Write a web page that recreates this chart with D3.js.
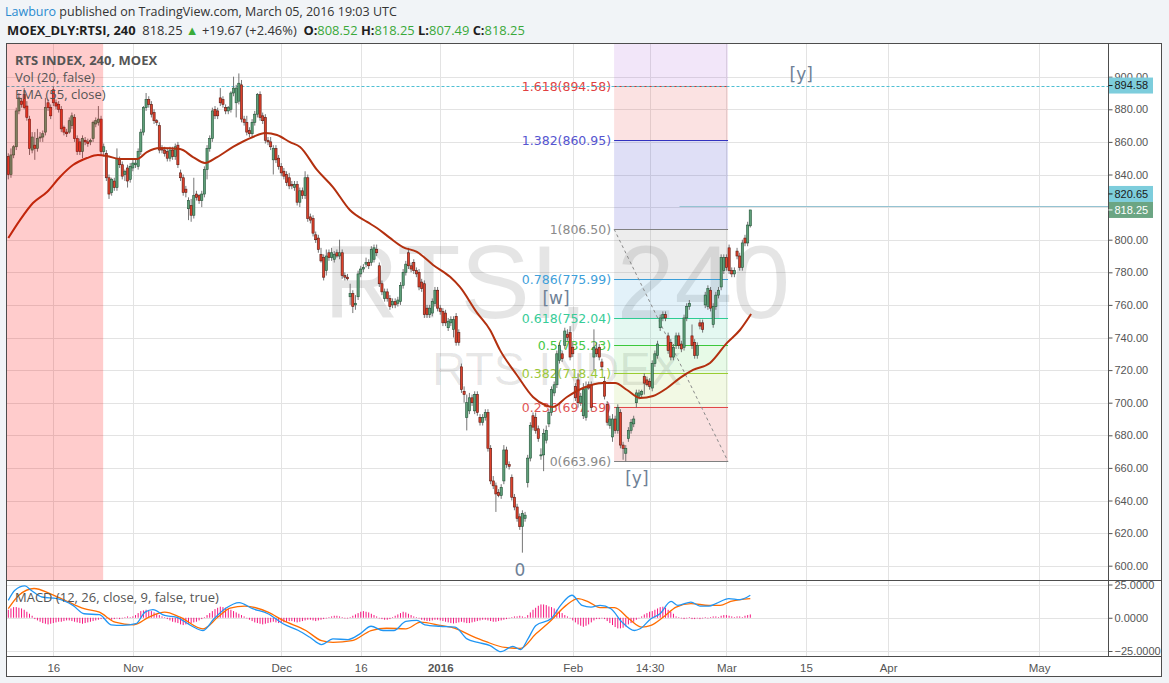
<!DOCTYPE html>
<html><head><meta charset="utf-8">
<script src="https://cdn.jsdelivr.net/npm/d3@7"></script>
<style>
body{margin:0;background:#f1f4f7;}
svg{display:block;}
text{white-space:pre;}
</style></head><body>
<svg id="c" width="1169" height="683"></svg>
<script>
// ---------- DATA ----------
// 240-minute candles, one row per bar: [open, high, low, close]
const candles = [
[851,853,837,840],[840,856,838,852],[852,858,850,857],[857,881,855,879],[879,890,877,887],
[885,887,881,883],[889,893,880,881],[882,885,873,875],[874,876,852,856],[855,866,853,863],
[858,866,849,856],[856,868,854,862],[863,866,860,863],[863,867,860,865],[866,887,864,881],
[884,886,879,881],[881,883,874,876],[892,894,882,884],[884,886,880,882],[883,885,878,880],
[880,882,866,868],[869,870,864,866],[866,868,863,865],[866,875,865,873],[870,878,868,876],
[875,877,860,862],[862,864,852,854],[860,862,852,854],[854,864,850,862],[861,863,858,860],
[860,862,857,859],[860,862,858,861],[862,873,860,872],[871,875,869,873],[872,882,870,874],
[874,876,852,854],[854,859,851,857],[853,855,836,838],[838,840,825,828],[829,838,827,837],
[836,838,830,832],[832,856,830,850],[849,851,844,846],[846,848,837,839],[840,843,836,842],
[844,846,832,836],[837,847,835,845],[844,849,842,847],[846,849,844,847],[845,856,843,854],
[854,868,852,866],[866,882,864,881],[881,890,879,886],[886,888,881,883],[883,885,875,877],
[878,880,871,873],[873,874,870,872],[870,872,853,855],[856,858,853,855],[855,857,851,853],
[854,856,848,850],[850,857,848,855],[855,857,849,851],[851,859,849,857],[858,860,844,846],
[841,843,836,838],[838,840,827,829],[831,833,826,829],[819,826,812,824],[821,825,811,815],
[815,838,813,827],[828,830,824,826],[827,828,822,824],[824,830,820,828],[828,845,826,843],
[843,858,837,856],[856,864,854,862],[862,881,860,879],[880,882,874,876],[879,881,874,876],
[887,893,882,884],[886,888,881,883],[881,883,877,879],[879,882,877,881],[880,891,878,890],
[890,900,888,893],[884,895,875,893],[885,902,883,896],[895,898,872,874],[874,876,870,872],
[872,876,864,866],[867,869,863,865],[865,874,863,872],[872,879,870,877],[877,890,875,889],
[889,891,873,875],[876,878,871,873],[875,877,859,861],[861,863,858,860],[860,863,855,857],
[849,858,840,856],[856,858,847,849],[850,852,843,845],[845,847,839,841],[842,844,837,839],
[840,842,833,835],[838,841,831,833],[834,836,831,833],[832,836,830,834],[834,836,821,823],
[823,832,820,830],[830,832,825,827],
[827,842,825,838],[838,840,811,813],[814,816,810,812],[813,815,802,804],[803,805,798,800],
[801,803,792,794],[791,795,786,787],[789,791,775,777],[781,794,778,790],[792,794,787,789],
[789,795,787,792],[788,793,786,791],[792,794,789,790],[790,800,788,792],[792,794,776,778],
[778,780,775,777],[777,779,775,776],[765,773,760,767],[767,769,755,759],[760,766,757,761],
[765,781,763,779],[779,784,777,782],[782,785,780,783],[785,789,783,786],[786,788,782,784],
[786,796,784,794],[788,797,786,795],[794,797,790,792],[784,786,771,773],[773,775,766,768],
[764,770,762,768],[768,770,762,764],[764,766,757,759],[760,764,758,762],[762,764,758,760],
[761,765,759,763],[762,774,760,772],[772,782,770,780],[780,787,778,785],[792,795,782,784],
[784,786,780,782],[786,788,779,781],[781,783,777,779],[780,782,769,771],[774,776,768,770],
[773,775,752,754],[758,760,752,754],[754,760,752,758],[755,764,753,762],[761,771,759,769],
[769,771,756,758],[758,760,754,756],[756,758,747,749],[755,757,747,749],[746,752,744,750],
[749,753,747,751],[745,753,740,751],[753,755,735,737],[743,745,735,737],
[722,724,706,708],[707,710,700,705],[691,705,683,700],[695,706,693,703],[703,705,698,700],
[695,707,693,705],[705,707,692,694],[691,693,686,688],[688,693,686,691],[691,696,689,694],
[694,696,670,672],[672,674,650,652],[652,655,647,649],[649,651,633,644],[645,647,642,643],
[643,650,641,648],[652,674,650,671],[671,673,660,662],[662,664,659,661],[654,656,640,642],
[642,644,634,636],[636,638,627,629],[630,632,622,624],[624,634,608,632],[629,633,627,631],
[651,668,648,666],[666,688,664,686],[692,694,683,685],[691,694,681,683],[684,686,676,678],
[668,672,665,668],[668,684,658,681],[677,686,675,683],[687,696,685,694],[694,710,692,708],
[706,713,704,711],[711,732,709,730],[726,737,724,735],[730,732,725,727],[735,746,733,744],
[742,745,738,740],[743,747,726,728],[734,737,728,730],[710,712,701,703],[714,718,697,700],
[700,706,698,704],[692,712,690,708],[691,713,689,710],[711,713,708,709],[711,713,695,697],
[728,745,720,734],[733,737,728,730],[734,736,726,728],[725,727,720,722],[713,716,702,704],
[699,701,686,688],[686,692,684,690],[679,693,676,690],[690,692,681,683],[683,699,681,697],
[694,696,672,674],[674,676,665,672],[669,674,664,672],[678,685,676,683],[683,690,681,688],
[687,692,685,690],[700,708,697,706],[704,708,702,706],[705,708,703,707],[716,718,705,712],
[714,716,710,711],[713,715,708,710],[709,726,707,724],[724,732,722,730],[729,738,727,736],
[746,754,744,752],[752,756,750,754],[754,756,750,752],[741,743,730,732],[737,739,726,728],
[728,736,726,734],[735,743,733,741],[741,743,733,735],[736,738,731,733],[734,754,732,752],
[752,761,750,759],[759,763,757,761],[741,748,733,735],[737,739,727,729],[729,737,727,735],
[749,751,745,747],[749,751,743,745],[760,768,758,766],[759,772,757,770],[769,771,756,758],
[748,761,746,759],[759,768,757,766],[766,771,764,769],[771,791,769,789],[781,791,779,789],
[789,791,781,783],[795,797,779,781],[781,783,777,779],[779,783,777,781],[793,795,788,790],
[790,792,781,783],[783,800,781,798],[801,803,796,798],[798,811,796,809],[808.52,818.25,807.49,818.25]
];
// EMA(55) readings: [bar, value]
const emaPts = [[0,801],[4.4,812],[9.3,822.5],[14.6,829.3],[19.5,838.5],[24.4,845.8],[29.7,850.1],[33.8,852],[37.2,851.4],[42.1,849.5],[48.6,849.5],[52.3,853.8],[57.2,856.3],[64.8,855.6],[69.7,850.7],[74.2,847.1],[78.8,850.7],[84.8,856.9],[92.3,863],[96.9,865.5],[101.4,864.2],[106.3,859.9],[110.1,856.9],[116.5,842.8],[122.5,832.3],[128.9,818.2],[135.4,810.9],[139.1,807.2],[144,801.1],[148.9,795.5],[154.2,792.5],[160.3,784.5],[166.7,777.2],[170.4,771],[176.9,755.1],[181.8,744.6],[185.5,732.4],[191.9,717],[198,703.5],[202.5,698.6],[205.5,697.4],[210.8,703.5],[216.9,709],[224.4,712.1],[229,712.1],[233.5,707.8],[238.4,702.9],[243.3,704.1],[248.6,709],[253.5,715.2],[258.4,720.1],[264.8,724.4],[271.2,736.7],[276.1,744.6],[280.3,754.4]];
// MACD line readings: [bar, value]
const macdPts = [[0,13.1],[2.5,20.7],[6.3,23.9],[8.6,20.7],[12.7,15.6],[18.4,14.4],[24.4,9.3],[28.6,3],[34.4,2.3],[38.8,-5.3],[43.1,-5.8],[48.2,-4.5],[51.6,4.2],[54.6,6.1],[59,1.7],[63.3,0.5],[68.9,-5.8],[73.5,-9.6],[77.6,-0.8],[82.2,7.3],[87.1,11.4],[92.2,6.8],[98,3],[103.7,-4.5],[109.5,-9.6],[113.8,-14.7],[118.2,-20.2],[122.5,-15.9],[128.2,-16.4],[132.7,-12.1],[136.9,-6.4],[141.4,-9.6],[145.5,-9.6],[150,-2.8],[154.2,-2],[157.2,-5.3],[162.9,-6.4],[168.6,-7.1],[173.1,-15.9],[177.2,-18.5],[181.8,-21],[185.9,-25.5],[190.4,-21.5],[193.3,-24],[196.1,-15.9],[199.1,-5.8],[204.8,-0.8],[208.4,9.3],[212.7,16.9],[216.5,9.3],[219.9,8],[223.3,9.3],[227.4,6.8],[231.6,-3.3],[236.3,-9.6],[238.4,-8.3],[242.5,-0.8],[245.9,3],[250.1,12.3],[252.7,9.3],[257.6,11.8],[261,8.8],[264.4,8.8],[267,10.6],[271.9,14.4],[276,13.6],[280,16.9]];
// Signal line readings: [bar, value]
const signalPts = [[0,6.8],[4,16.9],[9.7,22],[15.7,18.2],[21.4,13.1],[28.6,6.8],[34.4,4.2],[40.3,-3.3],[47.4,-5.3],[53.1,0.5],[59,4.2],[64.8,0.5],[73.5,-8.3],[79.1,0.5],[83.7,7.3],[89.3,8.8],[98,4.2],[103.7,-2],[112.3,-9.6],[118.2,-17.2],[122.5,-18.5],[129.7,-17.2],[136.9,-9.6],[142.7,-7.9],[150,-8.3],[155.7,-3.3],[162.9,-5.8],[168.6,-7.9],[174.6,-13.4],[180.3,-18],[187.4,-22.3],[193.3,-23],[199.1,-12.1],[204.8,-2],[210.5,9.3],[215,14.4],[219.1,11.8],[223.3,7.6],[228.8,7.6],[234.2,-0.8],[239.1,-7.1],[242.5,-5.8],[247.2,0.5],[252,8],[257.6,10.6],[264.4,9.3],[268.6,9.3],[272.6,12.3],[280,14.4]];
// MACD histogram, one value per bar
const histVals = [
6,7,8,8,7.5,7,6,4.5,3,1.5,
-1,-2,-3,-4,-4.5,-5,-4.5,-4,-3.5,-3,
-3,-2.5,-2,-2,-2.5,-3,-3.5,-4,-4.5,-4,
-3.5,-3,-2.5,-2,-1.5,-1,-1,-0.5,-1,-1.5,
-1,-0.5,-1,-0.5,0.5,1,0.5,1,2,3.5,
5,5.5,6,5.5,5,4,3,2,1,0.5,
-1,-2,-3,-3.5,-4,-5,-5.5,-5,-4.5,-4,
-3.5,-3,-2,-1,0.5,2,3.5,5,6.5,7.5,
8.3,8,7.5,7,6,5,4,3,2,1,
-0.5,-1.5,-2.5,-3.5,-4,-4.5,-5,-4.5,-4,-3.5,
-3,-3.5,-4,-4,-3.5,-3,-2.5,-2.5,-3,-3.5,
-3,-2.5,-2,-1.5,-1.5,-2,-2.5,-2,-1.5,-1,
-0.5,0.5,1,1.5,1.5,1,0.5,-0.5,-0.5,0.5,
1.5,2.5,3.5,4.5,5,4.5,4,3,2,1,
-0.5,-1,-1.5,-1.5,-1,0.5,1.5,2.5,3.5,4.5,
4,3,2,1,0.5,-0.5,-1.5,-2,-2.5,-2.5,
-2,-1.5,-1.5,-2,-2.5,-3,-3.5,-4,-4.3,-4,
-3.5,-3,-3.5,-4,-4,-3.5,-3,-2.5,-2,-1.5,
-1.5,-2,-2.5,-3,-3,-2.5,-2,-1.5,-1,-0.5,
0.5,1,1,1.5,1,0.5,2,4,6,7.5,
9,10,10,9.5,8.5,8,7,6,5,3.5,
2,1,-0.5,-2,-3.5,-5,-6,-6.8,-6,-5,
-3.5,-2,-1,-1,-0.5,-1,-2.5,-4,-5.5,-7,
-8,-8,-7.5,-6.5,-5,-4,-3,-1.5,-0.5,1,
2.5,3.5,4.5,5,6,7,8,8.3,7.5,6,
4.5,3,1,0.5,-0.5,-1,-0.5,0.5,-1,-1,
-0.5,-1,-0.5,0.5,-0.5,0.5,1,1,0.5,1.5,
2,2,1.5,1,0.5,1,1,0.5,1.5,2,2.5
];
const priceTicks = [600,620,640,660,680,700,720,740,760,780,800,820,840,860,880,900];
const macdTicks = [25,0,-25];
const dateTickBars = [17,47,103,133,163,213,242,271,301,332,389];
const dateTickLabels = ["16","Nov","Dec","16","2016","Feb","14:30","Mar","15","Apr","May"];
const fibLevels = [0,0.236,0.382,0.5,0.618,0.786,1,1.382,1.618];
const fibPrices = [663.96,697.59,718.41,735.23,752.04,775.99,806.50,860.95,894.58];
const fibBars = [228.6,271.6];
const redZoneBars = [-1,35.8];
const hLineDashed = 894.58;
const hRay = {bar:253.3, price:820.65};
const lastPrice = 818.25;
const waveLabels = [{t:"[y]",bar:299.2,price:898},{t:"[w]",bar:206.7,price:760.6},{t:"[y]",bar:237.2,price:650.1},{t:"0",bar:193.1,price:593.7}];

// ---------- STYLES / LAYOUT ----------
const W=1169,H=683;
const L=6.5,R=1161.5,AX=1108.5,T=43.5,PB=580.5,MB=656.5,B=676.5;
const UP="#5f9f79",UPB="#225437",DN="#dc412b",DNB="#5b1a13",WICK="#666";
const fibLineColors=["#808080","#e04848","#9acd32","#3cc83c","#2ecc94","#3c9ed8","#808080","#3434c0","#e03030"];
const fibLabelColors=["#8a8a8a","#e05555","#9dc83a","#45c845","#38cc98","#3ea0da","#8a8a8a","#5555d0","#e04040"];
const fibFills=["rgba(224,72,72,0.17)","rgba(154,205,50,0.13)","rgba(60,210,60,0.12)","rgba(46,204,143,0.13)","rgba(60,158,216,0.15)","rgba(128,128,128,0.14)","rgba(58,58,200,0.16)","rgba(224,48,48,0.14)","rgba(155,60,210,0.13)"];
const SANS="'Open Sans','Noto Sans',sans-serif", ARIAL="'Liberation Sans',Arial,sans-serif", VERD="'DejaVu Sans',Verdana,sans-serif";

const x=d3.scaleLinear().domain([0,280]).range([8.3,750.3]);
const y=d3.scaleLinear().domain([600,880]).range([565.7,109.3]);
const ym=d3.scaleLinear().domain([-25,25]).range([651,584.5]);

const svg=d3.select("#c");
svg.append("rect").attr("width",W).attr("height",H).attr("fill","#f1f4f7");

// header
const h1=svg.append("text").attr("x",5).attr("y",16).attr("font-family",SANS).attr("font-size",12.5);
h1.append("tspan").attr("fill","#2a8bd0").text("Lawburo");
h1.append("tspan").attr("fill","#333").text(" published on TradingView.com, March 05, 2016 19:03 UTC");
const h2=svg.append("text").attr("x",7).attr("y",35).attr("font-family",SANS).attr("font-size",12.9);
[["MOEX_DLY:RTSI, 240","#1e1e1e",700],["  818.25 ","#333",400],["▲","#3aab3a",400],[" +19.67 (+2.46%)  ","#333",400],
 ["O:","#1e1e1e",700],["808.52","#3aa83a",400],[" H:","#1e1e1e",700],["818.25","#3aa83a",400],
 [" L:","#1e1e1e",700],["807.49","#3aa83a",400],[" C:","#1e1e1e",700],["818.25","#3aa83a",400]]
 .forEach(p=>h2.append("tspan").attr("fill",p[1]).attr("font-weight",p[2]).text(p[0]));

// frame background
svg.append("rect").attr("x",L).attr("y",T).attr("width",R-L).attr("height",B-T).attr("fill","#fff");

const defs=svg.append("defs");
defs.append("clipPath").attr("id","cp").append("rect").attr("x",L).attr("y",T).attr("width",AX-L).attr("height",PB-T);
defs.append("clipPath").attr("id","cm").append("rect").attr("x",L).attr("y",PB).attr("width",AX-L).attr("height",MB-PB);

const gp=svg.append("g").attr("clip-path","url(#cp)");
const gm=svg.append("g").attr("clip-path","url(#cm)");

// grid
const GRID="#e3e3e3";
gp.selectAll(".hg").data(priceTicks).join("line").attr("x1",L).attr("x2",AX).attr("y1",d=>Math.round(y(d))+0.5).attr("y2",d=>Math.round(y(d))+0.5).attr("stroke",GRID);
gm.selectAll(".mg").data(macdTicks).join("line").attr("x1",L).attr("x2",AX).attr("y1",d=>Math.round(ym(d))+0.5).attr("y2",d=>Math.round(ym(d))+0.5).attr("stroke",GRID);
[gp,gm].forEach(g=>g.selectAll(".vg").data(dateTickBars).join("line").attr("x1",d=>Math.round(x(d))+0.5).attr("x2",d=>Math.round(x(d))+0.5).attr("y1",T).attr("y2",MB).attr("stroke",GRID));

// watermark
gp.append("text").attr("x",557).attr("y",318).attr("text-anchor","middle").attr("font-family",ARIAL).attr("font-size",104).attr("fill","rgba(0,0,0,0.1)").text("RTSI, 240");
gp.append("text").attr("x",557).attr("y",385).attr("text-anchor","middle").attr("font-family",ARIAL).attr("font-size",47).attr("fill","rgba(0,0,0,0.1)").text("RTS INDEX");

// fibonacci
const fx0=x(fibBars[0]),fx1=x(fibBars[1]);
fibPrices.forEach((p,i)=>{
  const top=i<fibPrices.length-1?y(fibPrices[i+1]):T;
  gp.append("rect").attr("x",fx0).attr("width",fx1-fx0).attr("y",top).attr("height",y(p)-top).attr("fill",fibFills[i]);
});
fibPrices.forEach((p,i)=>{
  const yy=Math.round(y(p))+0.5;
  gp.append("line").attr("x1",fx0).attr("x2",fx1).attr("y1",yy).attr("y2",yy).attr("stroke",fibLineColors[i]).attr("stroke-width",1.2);
  gp.append("text").attr("x",fx0-3).attr("y",yy).attr("dy","0.36em").attr("text-anchor","end").attr("font-family",VERD).attr("font-size",12.5)
    .attr("fill",fibLabelColors[i]).text(`${fibLevels[i]}(${p.toFixed(2)})`);
});
gp.append("line").attr("x1",fx0).attr("y1",y(fibPrices[6])).attr("x2",fx1).attr("y2",y(fibPrices[0])).attr("stroke","#8a8a8a").attr("stroke-dasharray","3,3");

// horizontal lines
gp.append("line").attr("x1",L).attr("x2",AX).attr("y1",Math.round(y(hLineDashed))+0.5).attr("y2",Math.round(y(hLineDashed))+0.5).attr("stroke","#4fbfd3").attr("stroke-dasharray","3,2");
gp.append("line").attr("x1",x(hRay.bar)).attr("x2",AX).attr("y1",Math.round(y(hRay.price))+0.5).attr("y2",Math.round(y(hRay.price))+0.5).attr("stroke","#94c3d2");

// candles
const cg=gp.append("g");
candles.forEach((c,i)=>{
  const [o,h,l,cl]=c, up=cl>=o, cx=x(i);
  cg.append("line").attr("x1",cx).attr("x2",cx).attr("y1",y(h)).attr("y2",y(l)).attr("stroke",WICK).attr("stroke-width",0.9);
  const yt=y(Math.max(o,cl)), yb=y(Math.min(o,cl));
  cg.append("rect").attr("x",cx-1.1).attr("width",2.2).attr("y",yt).attr("height",Math.max(1,yb-yt))
    .attr("fill",up?UP:DN).attr("stroke",up?UPB:DNB).attr("stroke-width",0.6);
});

// EMA
gp.append("path").datum(emaPts).attr("d",d3.line().x(d=>x(d[0])).y(d=>y(d[1])).curve(d3.curveMonotoneX))
  .attr("fill","none").attr("stroke","#b3300f").attr("stroke-width",2);

// red zone
gp.append("rect").attr("x",x(redZoneBars[0])).attr("width",x(redZoneBars[1])-x(redZoneBars[0])).attr("y",T).attr("height",PB-T).attr("fill","rgba(255,0,0,0.2)");

// wave labels
gp.selectAll(".wl").data(waveLabels).join("text").attr("x",d=>x(d.bar)).attr("y",d=>y(d.price)).attr("text-anchor","middle")
  .attr("font-family",VERD).attr("font-size",17).attr("fill","#6e8196").text(d=>d.t);

// legend
const lg=svg.append("g").attr("font-family",SANS).attr("fill","#555");
lg.append("text").attr("x",15).attr("y",65).attr("font-size",13).attr("font-weight",700).text("RTS INDEX, 240, MOEX");
lg.append("text").attr("x",15).attr("y",82).attr("font-size",13).text("Vol (20, false)");
lg.append("text").attr("x",15).attr("y",99).attr("font-size",13).text("EMA (55, close)");

// MACD
gm.selectAll(".hb").data(histVals).join("line").attr("x1",(d,i)=>x(i)).attr("x2",(d,i)=>x(i)).attr("y1",ym(0)).attr("y2",d=>ym(d))
  .attr("stroke","#f5157f").attr("stroke-width",1);
const ml=d3.line().x(d=>x(d[0])).y(d=>ym(d[1])).curve(d3.curveMonotoneX);
gm.append("path").datum(signalPts).attr("d",ml).attr("fill","none").attr("stroke","#ff6d00").attr("stroke-width",1.3);
gm.append("path").datum(macdPts).attr("d",ml).attr("fill","none").attr("stroke","#2196f3").attr("stroke-width",1.3);
svg.append("text").attr("x",15).attr("y",602).attr("font-family",SANS).attr("font-size",13).attr("fill","#555").text("MACD (12, 26, close, 9, false, true)");

// axes
const pa=svg.append("g").attr("transform",`translate(${AX},0)`).call(d3.axisRight(y).tickValues(priceTicks).tickFormat(d3.format(".2f")).tickSize(4).tickPadding(2));
const ma=svg.append("g").attr("transform",`translate(${AX},0)`).call(d3.axisRight(ym).tickValues(macdTicks).tickFormat(d3.format(".4f")).tickSize(4).tickPadding(2));
[pa,ma].forEach(a=>{a.select(".domain").remove();a.selectAll("line").attr("stroke","#555");a.selectAll("text").attr("font-family",ARIAL).attr("font-size",11).attr("fill","#555");});
const da=svg.append("g").attr("transform",`translate(0,${MB})`).call(d3.axisBottom(x).tickValues(dateTickBars).tickFormat((d,i)=>dateTickLabels[i]).tickSize(0));
da.select(".domain").remove();
da.selectAll("text").attr("y",15).attr("dy",0).attr("font-family",ARIAL).attr("font-size",11.5).attr("fill","#555")
  .attr("font-weight",(d,i)=>dateTickLabels[i]==="2016"?700:400);

// frame lines
const FR="#4d4d4d";
svg.append("rect").attr("x",L).attr("y",T).attr("width",R-L).attr("height",B-T).attr("fill","none").attr("stroke",FR);
svg.append("line").attr("x1",AX).attr("x2",AX).attr("y1",T).attr("y2",MB).attr("stroke",FR);
svg.append("line").attr("x1",L).attr("x2",R).attr("y1",PB).attr("y2",PB).attr("stroke",FR);
svg.append("line").attr("x1",L).attr("x2",R).attr("y1",MB).attr("y2",MB).attr("stroke",FR);

// price labels on axis
const boxes=[{v:hLineDashed,bg:"#7dcddc",fg:"#1a1a1a"},{v:hRay.price,bg:"#7dcddc",fg:"#1a1a1a"},{v:lastPrice,bg:"#6ba583",fg:"#fff"}];
boxes.forEach(b=>b.cy=y(b.v));
for(let i=boxes.length-2;i>=0;i--){ if(boxes[i+1].cy-boxes[i].cy<16) boxes[i].cy=boxes[i+1].cy-16; }
boxes.forEach(b=>{
  svg.append("rect").attr("x",AX+0.5).attr("y",b.cy-8).attr("width",44).attr("height",16).attr("fill",b.bg);
  svg.append("line").attr("x1",AX).attr("x2",AX+4).attr("y1",b.cy).attr("y2",b.cy).attr("stroke",b.fg);
  svg.append("text").attr("x",AX+6).attr("y",b.cy).attr("dy","0.35em").attr("font-family",ARIAL).attr("font-size",11).attr("fill",b.fg).text(b.v.toFixed(2));
});
</script>
</body></html>
